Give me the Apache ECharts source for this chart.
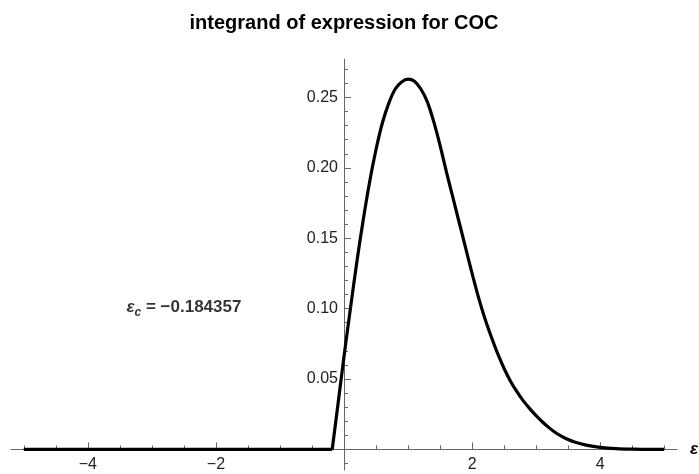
<!DOCTYPE html>
<html>
<head>
<meta charset="utf-8">
<script src="https://cdn.jsdelivr.net/npm/echarts@6/dist/echarts.min.js"></script>
<style>html,body{margin:0;padding:0;background:#fff}#c{width:699px;height:474px}</style>
</head>
<body>
<div id="c"></div>
<script>
// ---- data ----
const titleText = 'integrand of expression for COC';
const annotationText = ['ε', 'c', ' = −0.184357'];
const epsC = -0.184357;
// flat part (integrand is zero below the cut-off)
const flatX = [-5, epsC];
const flatY = [0, 0];
// curve part
const curveX = [epsC, -0.1, 0, 0.1, 0.2, 0.3, 0.4, 0.5, 0.6, 0.7, 0.8, 0.9, 1.0, 1.1, 1.2, 1.3, 1.4, 1.5, 1.6, 1.7, 1.8, 1.9, 2.0, 2.1, 2.2, 2.3, 2.4, 2.5, 2.6, 2.7, 2.8, 2.9, 3.0, 3.1, 3.2, 3.3, 3.4, 3.5, 3.6, 3.8, 4.0, 4.25, 4.5, 4.75, 5];
const curveY = [0, 0.030, 0.066, 0.100, 0.133, 0.163, 0.190, 0.213, 0.232, 0.246, 0.256, 0.261, 0.263, 0.2615, 0.256, 0.247, 0.233, 0.216, 0.197, 0.179, 0.161, 0.143, 0.125, 0.108, 0.093, 0.080, 0.068, 0.0575, 0.0485, 0.041, 0.0345, 0.029, 0.024, 0.0195, 0.0155, 0.012, 0.0093, 0.007, 0.0053, 0.0029, 0.0015, 0.0006, 0.0002, 0.00005, 0];
const xMajorTicks = [-4, -2, 2, 4];
const xMinorTicks = [-5, -4.5, -4, -3.5, -3, -2.5, -2, -1.5, -1, -0.5, 0.5, 1, 1.5, 2, 2.5, 3, 3.5, 4, 4.5, 5];
const yMajorTicks = [0.05, 0.10, 0.15, 0.20, 0.25];
const yMinorTicks = [-0.01, 0.01, 0.02, 0.03, 0.04, 0.05, 0.06, 0.07, 0.08, 0.09, 0.10, 0.11, 0.12, 0.13, 0.14, 0.15, 0.16, 0.17, 0.18, 0.19, 0.20, 0.21, 0.22, 0.23, 0.24, 0.25, 0.26, 0.27];

// ---- chart ----
const FONT = "'Liberation Sans', Arial, sans-serif";
const X_MIN = -5.2, X_MAX = 5.2, Y_MIN = -0.0146, Y_MAX = 0.2773;
const AXIS_COLOR = '#666';
const GRID = {left: 11, right: 22, top: 59, bottom: 4};
const W = 699, H = 474;

const chart = echarts.init(document.getElementById('c'), null, {renderer: 'canvas'});
const flatData = flatX.map((x, i) => [x, flatY[i]]);
const curveData = curveX.map((x, i) => [x, curveY[i]]);

function buildOption(xOff, yOff) {
  const xBase = {type: 'value', min: X_MIN, max: X_MAX, position: 'bottom', offset: xOff, splitLine: {show: false}};
  const yBase = {type: 'value', min: Y_MIN, max: Y_MAX, position: 'left', offset: yOff, splitLine: {show: false}};
  const lineStyle = {color: '#000', width: 3.2};
  return {
    animation: false,
    title: {
      text: titleText,
      left: 339, top: 8, textAlign: 'center',
      textStyle: {fontFamily: FONT, fontSize: 20, fontWeight: 'bold', color: '#000'}
    },
    grid: Object.assign({containLabel: false, outerBoundsMode: 'none'}, GRID),
    xAxis: [
      Object.assign({}, xBase, {
        axisLine: {show: true, onZero: false, lineStyle: {color: AXIS_COLOR, width: 1}},
        axisTick: {show: true, inside: true, length: 4, customValues: xMinorTicks, lineStyle: {color: AXIS_COLOR}},
        axisLabel: {
          show: true, margin: 7, customValues: xMajorTicks,
          fontFamily: FONT, fontSize: 16, color: '#222',
          formatter: v => String(v).replace('-', '\u2212')
        },
        name: 'ε', nameLocation: 'end', nameGap: 13,
        nameTextStyle: {fontFamily: FONT, fontSize: 17, fontWeight: 'bold', fontStyle: 'italic', color: '#000'}
      }),
      Object.assign({}, xBase, {
        axisLine: {show: false, onZero: false},
        axisTick: {show: true, inside: true, length: 7, customValues: xMajorTicks, lineStyle: {color: AXIS_COLOR}},
        axisLabel: {show: false}
      })
    ],
    yAxis: [
      Object.assign({}, yBase, {
        axisLine: {show: true, onZero: false, lineStyle: {color: AXIS_COLOR, width: 1}},
        axisTick: {show: true, inside: true, length: 4, customValues: yMinorTicks, lineStyle: {color: AXIS_COLOR}},
        axisLabel: {
          show: true, margin: 6, customValues: yMajorTicks,
          fontFamily: FONT, fontSize: 16, color: '#222',
          formatter: v => v.toFixed(2)
        }
      }),
      Object.assign({}, yBase, {
        axisLine: {show: false, onZero: false},
        axisTick: {show: true, inside: true, length: 7, customValues: yMajorTicks, lineStyle: {color: AXIS_COLOR}},
        axisLabel: {show: false}
      })
    ],
    series: [
      {type: 'line', xAxisIndex: 0, yAxisIndex: 0, data: flatData, showSymbol: false,
       lineStyle: lineStyle, silent: true, z: 5},
      {type: 'line', xAxisIndex: 0, yAxisIndex: 0, data: curveData, showSymbol: false, smooth: 0.3,
       lineStyle: lineStyle, silent: true, z: 5},
      {
        type: 'scatter', xAxisIndex: 0, yAxisIndex: 0,
        data: [[-2.5, 0.101]], symbolSize: 0, silent: true,
        label: {
          show: true, position: 'inside',
          formatter: '{e|' + annotationText[0] + '}{s|' + annotationText[1] + '}{n|' + annotationText[2] + '}',
          rich: {
            e: {fontFamily: FONT, fontSize: 17, fontWeight: 'bold', fontStyle: 'italic', color: '#000', lineHeight: 22},
            s: {fontFamily: FONT, fontSize: 12, fontWeight: 'bold', fontStyle: 'italic', color: '#000', lineHeight: 10, verticalAlign: 'bottom'},
            n: {fontFamily: FONT, fontSize: 17, fontWeight: 'bold', color: '#000', lineHeight: 22}
          }
        }
      }
    ]
  };
}

chart.setOption(buildOption(0, 0));
// place the axes through the origin, using the library's own scales
const origin = chart.convertToPixel({gridIndex: 0}, [0, 0]);
const yOffset = -(origin[0] - GRID.left);
const xOffset = -((H - GRID.bottom) - origin[1]);
chart.setOption(buildOption(xOffset, yOffset), true);
</script>
</body>
</html>
